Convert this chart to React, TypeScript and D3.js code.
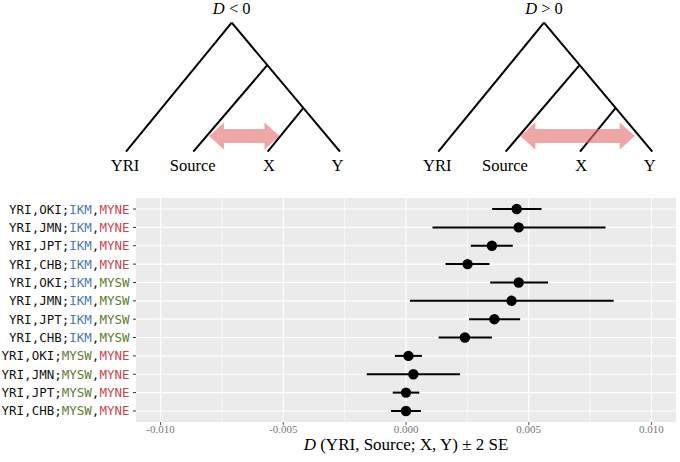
import React from "react";
import * as d3 from "d3";

const outgroup = ["YRI", "YRI", "YRI", "YRI", "YRI", "YRI", "YRI", "YRI", "YRI", "YRI", "YRI", "YRI"];
const sources = ["OKI", "JMN", "JPT", "CHB", "OKI", "JMN", "JPT", "CHB", "OKI", "JMN", "JPT", "CHB"];
const popX = ["IKM", "IKM", "IKM", "IKM", "IKM", "IKM", "IKM", "IKM", "MYSW", "MYSW", "MYSW", "MYSW"];
const popY = ["MYNE", "MYNE", "MYNE", "MYNE", "MYSW", "MYSW", "MYSW", "MYSW", "MYNE", "MYNE", "MYNE", "MYNE"];
const dValues = [0.00451, 0.00459, 0.0035, 0.00251, 0.00459, 0.0043, 0.0036, 0.0024, 0.0001, 0.0003, 0.0, 0.0];
const lower = [0.00351, 0.00108, 0.00264, 0.00161, 0.00343, 0.00016, 0.00257, 0.00133, -0.00045, -0.0016, -0.00054, -0.00061];
const upper = [0.00552, 0.00813, 0.00435, 0.0034, 0.00579, 0.00846, 0.00465, 0.0035, 0.00065, 0.0022, 0.00054, 0.00061];
const xTicks = [-0.01, -0.005, 0, 0.005, 0.01];
const xMinor = [-0.0075, -0.0025, 0.0025, 0.0075];
const treeLeaves = ["YRI", "Source", "X", "Y"];
const treeTitles = ["D < 0", "D > 0"];

const popColor: Record<string, string> = {
  IKM: "#4a78b0",
  MYNE: "#d0444a",
  MYSW: "#5e7d2e",
};

const W = 680;
const H = 462;
const panel = { left: 136, right: 676, top: 198, bottom: 422 };

function Tree({ dx, title, arrowTo }: { dx: number; title: string; arrowTo: number }) {
  const leafY = 151.7;
  const apex = [231.7 + dx, 22.7];
  const sNode = [266.8 + dx, 65.7];
  const xyNode = [303 + dx, 108.3];
  const leafX = [126 + dx, 193.3 + dx, 267.7 + dx, 340 + dx];
  const labelX = [125 + dx, 192.7 + dx, 269 + dx, 337.5 + dx];
  const lines = [
    [apex, [leafX[0], leafY]],
    [apex, [leafX[3], leafY]],
    [sNode, [leafX[1], leafY]],
    [xyNode, [leafX[2], leafY]],
  ];
  const line = d3.line();
  const ay = 136;
  const x0 = arrowTo === 2 ? 209 + dx : 208 + dx;
  const x1 = arrowTo === 2 ? 279.5 + dx : 322.5 + dx;
  const bh = 7;
  const hh = 13.5;
  const hl = 15;
  const arrowPts: [number, number][] = [
    [x0, ay],
    [x0 + hl, ay - hh],
    [x0 + hl, ay - bh],
    [x1 - hl, ay - bh],
    [x1 - hl, ay - hh],
    [x1, ay],
    [x1 - hl, ay + hh],
    [x1 - hl, ay + bh],
    [x0 + hl, ay + bh],
    [x0 + hl, ay + hh],
  ];
  const [lhs, op, rhs] = title.split(" ");
  return (
    <g>
      {lines.map((l, i) => (
        <path key={i} d={line(l as [number, number][]) || ""} stroke="#000" strokeWidth={2} fill="none" />
      ))}
      <path d={(line(arrowPts) || "") + "Z"} fill="rgba(228,112,112,0.62)" />
      {treeLeaves.map((t, i) => (
        <text key={t} x={labelX[i]} y={170.5} textAnchor="middle" fontFamily="Liberation Serif" fontSize={16.5} fill="#000">
          {t}
        </text>
      ))}
      <text x={apex[0]} y={14} textAnchor="middle" fontFamily="Liberation Serif" fontSize={16.5} fill="#000">
        <tspan fontStyle="italic">{lhs}</tspan>
        <tspan>{" " + op + " " + rhs}</tspan>
      </text>
    </g>
  );
}

export default function App() {
  const x = d3.scaleLinear().domain([-0.011, 0.011]).range([panel.left, panel.right]);
  const rows = d3.range(dValues.length);
  const y = d3
    .scalePoint<number>()
    .domain(rows)
    .range([panel.top, panel.bottom])
    .padding(0.6);

  return (
    <svg width={W} height={H} style={{ position: "absolute", left: 0, top: 0, background: "#fff" }}>
      <Tree dx={0} title={treeTitles[0]} arrowTo={2} />
      <Tree dx={312.3} title={treeTitles[1]} arrowTo={3} />

      <rect x={panel.left} y={panel.top} width={panel.right - panel.left} height={panel.bottom - panel.top} fill="#EBEBEB" />
      {xMinor.map((t) => (
        <line key={"mi" + t} x1={x(t)} x2={x(t)} y1={panel.top} y2={panel.bottom} stroke="#fff" strokeWidth={0.6} />
      ))}
      {xTicks.map((t) => (
        <line key={"ma" + t} x1={x(t)} x2={x(t)} y1={panel.top} y2={panel.bottom} stroke="#fff" strokeWidth={1.2} />
      ))}
      {rows.map((r) => (
        <line key={"h" + r} x1={panel.left} x2={panel.right} y1={y(r)!} y2={y(r)!} stroke="#fff" strokeWidth={1.2} />
      ))}

      {rows.map((r) => (
        <g key={"p" + r}>
          <line x1={x(lower[r])} x2={x(upper[r])} y1={y(r)!} y2={y(r)!} stroke="#000" strokeWidth={2} />
          <circle cx={x(dValues[r])} cy={y(r)!} r={5.2} fill="#000" />
        </g>
      ))}

      {rows.map((r) => (
        <g key={"yl" + r}>
          <line x1={panel.left - 3} x2={panel.left} y1={y(r)!} y2={y(r)!} stroke="#333" strokeWidth={1} />
          <text
            x={panel.left - 6.5}
            y={y(r)!}
            dy="0.36em"
            textAnchor="end"
            fontFamily="DejaVu Sans Mono"
            fontSize={12.5}
            fill="#111"
          >
            <tspan>{outgroup[r] + "," + sources[r] + ";"}</tspan>
            <tspan fill={popColor[popX[r]]}>{popX[r]}</tspan>
            <tspan>,</tspan>
            <tspan fill={popColor[popY[r]]}>{popY[r]}</tspan>
          </text>
        </g>
      ))}

      {xTicks.map((t) => (
        <g key={"xt" + t}>
          <line x1={x(t)} x2={x(t)} y1={panel.bottom} y2={panel.bottom + 3} stroke="#555" strokeWidth={1} />
          <text x={x(t)} y={433} textAnchor="middle" fontFamily="Liberation Serif" fontSize={11} fill="#777">
            {d3.format(".3f")(t).replace("\u2212", "-")}
          </text>
        </g>
      ))}
      <text x={(panel.left + panel.right) / 2} y={450} textAnchor="middle" fontFamily="Liberation Serif" fontSize={17} fill="#000">
        <tspan fontStyle="italic">D</tspan>
        <tspan>{" (YRI, Source; X, Y) \u00B1 2 SE"}</tspan>
      </text>
    </svg>
  );
}
